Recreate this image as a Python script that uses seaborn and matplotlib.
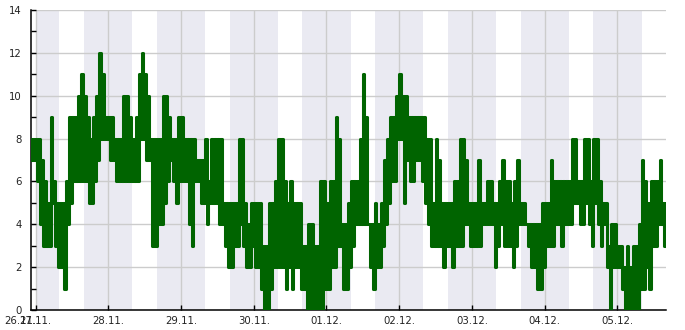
import matplotlib
matplotlib.use("Agg")
import matplotlib.pyplot as plt
import matplotlib.dates as mdates
import matplotlib.transforms as mtransforms
from matplotlib.ticker import MultipleLocator
import pandas as pd
import seaborn as sns

# ---- data: hourly high / low readings ----
day_starts = ["2023-11-26 22:00", "2023-11-27", "2023-11-28", "2023-11-29",
              "2023-11-30", "2023-12-01", "2023-12-02", "2023-12-03",
              "2023-12-04", "2023-12-05"]

hi_2611 = [8, 8]
lo_2611 = [7, 7]
hi_2711 = [8, 8, 7, 6, 5, 9, 6, 5, 5, 5, 6, 9, 9, 9, 10, 11, 10, 9, 8, 9, 10, 12, 11, 9]
lo_2711 = [6, 4, 3, 3, 3, 5, 3, 2, 2, 1, 4, 5, 6, 6, 6, 6, 6, 5, 5, 6, 7, 8, 8, 8]
hi_2811 = [9, 9, 8, 8, 8, 10, 10, 9, 8, 9, 11, 12, 11, 10, 8, 8, 8, 8, 10, 10, 9, 8, 8, 9]
lo_2811 = [7, 7, 6, 6, 6, 6, 6, 6, 6, 6, 8, 8, 7, 7, 3, 3, 4, 4, 5, 6, 7, 6, 5, 6]
hi_2911 = [9, 8, 8, 8, 8, 7, 7, 7, 8, 6, 8, 8, 8, 8, 5, 5, 5, 5, 5, 8, 8, 5, 4, 5]
lo_2911 = [6, 6, 4, 3, 6, 6, 5, 5, 4, 5, 5, 5, 4, 4, 3, 2, 2, 3, 3, 4, 3, 2, 2, 3]
hi_3011 = [5, 5, 5, 3, 3, 5, 5, 6, 8, 8, 6, 5, 6, 5, 5, 5, 3, 3, 4, 4, 3, 3, 6, 6]
lo_3011 = [2, 2, 1, 0, 0, 1, 2, 2, 2, 2, 1, 2, 1, 2, 2, 1, 1, 0, 0, 0, 0, 0, 0, 1]
hi_0112 = [5, 6, 6, 9, 8, 4, 4, 5, 6, 6, 6, 8, 11, 9, 4, 4, 5, 4, 5, 7, 8, 9, 9, 10]
lo_0112 = [1, 2, 2, 3, 3, 1, 1, 2, 3, 4, 4, 4, 4, 4, 2, 1, 2, 2, 3, 4, 5, 6, 6, 8]
hi_0212 = [11, 10, 10, 9, 9, 9, 9, 9, 9, 8, 8, 5, 8, 7, 5, 5, 5, 5, 6, 6, 8, 8, 7, 5]
lo_0212 = [8, 5, 7, 6, 6, 7, 7, 6, 5, 4, 3, 3, 3, 3, 2, 3, 3, 2, 3, 3, 3, 4, 4, 3]
hi_0312 = [5, 5, 7, 5, 5, 6, 6, 5, 5, 6, 7, 6, 6, 5, 6, 7, 5, 5, 4, 4, 4, 4, 4, 5]
lo_0312 = [3, 3, 3, 4, 4, 4, 4, 2, 3, 4, 3, 3, 3, 2, 3, 4, 4, 4, 3, 2, 2, 1, 1, 2]
hi_0412 = [5, 5, 7, 6, 6, 6, 6, 6, 6, 8, 8, 6, 6, 8, 8, 6, 8, 8, 6, 5, 5, 3, 4, 4]
lo_0412 = [3, 3, 3, 4, 4, 3, 4, 4, 4, 5, 5, 4, 4, 5, 4, 3, 5, 4, 3, 4, 2, 0, 2, 2]
hi_0512 = [3, 3, 2, 3, 2, 3, 3, 4, 7, 6, 5, 6, 6, 6, 7, 5, 5]
lo_0512 = [2, 1, 0, 0, 0, 0, 0, 1, 1, 2, 1, 3, 3, 4, 4, 3, 4]

# night shading: sunrise / sunset (hour of day) for 27.11. ... 05.12.
band_days = ["2023-11-27", "2023-11-28", "2023-11-29", "2023-11-30", "2023-12-01",
             "2023-12-02", "2023-12-03", "2023-12-04", "2023-12-05"]
sunrise_h = [7.8, 7.85, 7.9, 7.95, 8.0, 8.0, 8.05, 8.05, 8.05]
sunset_h = [16.05, 16.05, 16.05, 16.05, 16.05, 16.05, 16.05, 16.05, 16.05]

tick_days = ["2023-11-27", "2023-11-28", "2023-11-29", "2023-11-30", "2023-12-01",
             "2023-12-02", "2023-12-03", "2023-12-04", "2023-12-05"]
extra_label = "26.11."

# ---- build the series ----
his = [hi_2611, hi_2711, hi_2811, hi_2911, hi_3011, hi_0112, hi_0212, hi_0312, hi_0412, hi_0512]
los = [lo_2611, lo_2711, lo_2811, lo_2911, lo_3011, lo_0112, lo_0212, lo_0312, lo_0412, lo_0512]
times, vals = [], []
for start, hi, lo in zip(day_starts, his, los):
    t0 = pd.Timestamp(start)
    for i, (h, l) in enumerate(zip(hi, lo)):
        times.append(t0 + pd.Timedelta(hours=i))
        vals.append(h)
        times.append(t0 + pd.Timedelta(hours=i, minutes=30))
        vals.append(l)
df = pd.DataFrame({"time": times, "value": vals})

# ---- style ----
sns.set_theme(style="white")
plt.rcParams["font.family"] = ["DejaVu Sans"]

fig = plt.figure(figsize=(6.85, 3.30), dpi=100)
ax = fig.add_axes([31 / 685, 20 / 330, 635 / 685, 300 / 330])

# night bands
first = pd.Timestamp(band_days[0])
ax.axvspan(first, first + pd.Timedelta(hours=sunrise_h[0]), color="#eaeaf2", lw=0, zorder=0)
for k in range(len(band_days) - 1):
    d0 = pd.Timestamp(band_days[k])
    d1 = pd.Timestamp(band_days[k + 1])
    ax.axvspan(d0 + pd.Timedelta(hours=sunset_h[k]), d1 + pd.Timedelta(hours=sunrise_h[k + 1]),
               color="#eaeaf2", lw=0, zorder=0)

sns.lineplot(data=df, x="time", y="value", ax=ax, color="#006400", linewidth=2.2,
             estimator=None, sort=True, drawstyle="steps-post", zorder=3)

ax.set_xlim(pd.Timestamp("2023-11-26 22:30"), pd.Timestamp("2023-12-05 16:02"))
ax.set_ylim(0, 14)
ax.set_xlabel("")
ax.set_ylabel("")

ax.yaxis.set_major_locator(MultipleLocator(2))
ax.yaxis.set_minor_locator(MultipleLocator(1))
ax.set_xticks([mdates.date2num(pd.Timestamp(d)) for d in tick_days])
ax.xaxis.set_major_formatter(mdates.DateFormatter("%d.%m."))

ax.grid(True, which="major", axis="both", color="#cccccc", linewidth=1.0, zorder=0.5)
ax.set_axisbelow(True)

for s in ["top", "right"]:
    ax.spines[s].set_visible(False)
for s in ["left", "bottom"]:
    ax.spines[s].set_color("black")
    ax.spines[s].set_linewidth(1.1)

ax.tick_params(axis="y", which="both", direction="in", length=3.5, width=1, color="black",
               left=True, labelsize=7.3, labelcolor="#222222", pad=6.5)
ax.tick_params(axis="x", which="major", direction="in", length=3.5, width=1, color="black",
               bottom=True, labelsize=7.3, labelcolor="#222222", pad=4)

trans = mtransforms.blended_transform_factory(ax.transData, ax.transAxes)
lbl = ax.xaxis.get_ticklabels()[0]
ax.text(mdates.date2num(pd.Timestamp("2023-11-26 19:00")), 0, extra_label,
        transform=trans, ha="center", va="top", fontsize=7.3, color="#222222",
        clip_on=False,
        bbox=None).set_transform(trans + mtransforms.ScaledTranslation(0, -4 / 72, fig.dpi_scale_trans))

fig.savefig("out.png", dpi=100)
